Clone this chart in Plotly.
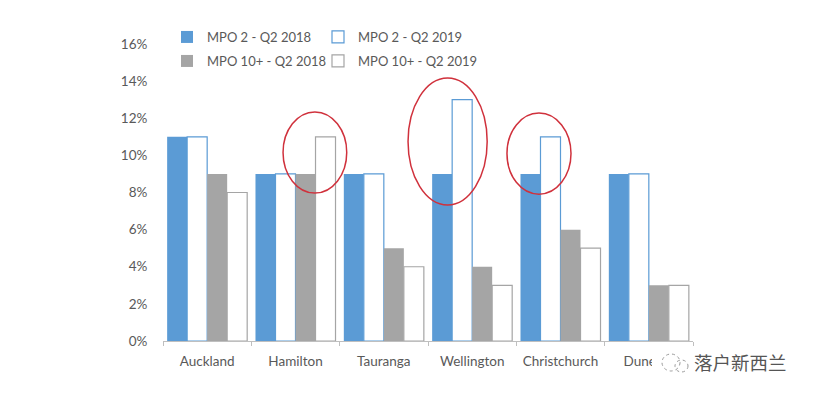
import plotly.graph_objects as go

categories = ["Auckland", "Hamilton", "Tauranga", "Wellington", "Christchurch", "Dunedin"]
mpo2_2018 = [0.11, 0.09, 0.09, 0.09, 0.09, 0.09]
mpo2_2019 = [0.11, 0.09, 0.09, 0.13, 0.11, 0.09]
mpo10_2018 = [0.09, 0.09, 0.05, 0.04, 0.06, 0.03]
mpo10_2019 = [0.08, 0.11, 0.04, 0.03, 0.05, 0.03]
y_ticks = [0, 0.02, 0.04, 0.06, 0.08, 0.10, 0.12, 0.14, 0.16]

BLUE = "#5B9BD5"
GRAY = "#A5A5A5"
FONT = "Lato, Open Sans, sans-serif"
TXT = "#595959"

# plot area in pixels (for placing decorations)
L, R, T, B = 163, 693, 44, 341


def px(xp):
    return (xp - L) / (R - L)


def py(yp):
    return (B - yp) / (B - T)


fig = go.Figure()
fig.add_trace(go.Bar(x=categories, y=mpo2_2018, name="MPO 2 - Q2 2018",
                     marker=dict(color=BLUE, line=dict(color=BLUE, width=0)), legend="legend"))
fig.add_trace(go.Bar(x=categories, y=mpo2_2019, name="MPO 2 - Q2 2019",
                     marker=dict(color="white", line=dict(color=BLUE, width=1.2)), legend="legend2"))
fig.add_trace(go.Bar(x=categories, y=mpo10_2018, name="MPO 10+ - Q2 2018",
                     marker=dict(color=GRAY, line=dict(color=GRAY, width=0)), legend="legend3"))
fig.add_trace(go.Bar(x=categories, y=mpo10_2019, name="MPO 10+ - Q2 2019",
                     marker=dict(color="white", line=dict(color=GRAY, width=1.2)), legend="legend4"))

# red highlight ellipses
ellipses = [(0.859, 1.58, 0.0797, 0.1234), (2.274, 3.17, 0.0733, 0.1417), (3.394, 4.119, 0.0791, 0.1228)]
for x0, x1, y0, y1 in ellipses:
    fig.add_shape(type="circle", xref="x", yref="y", x0=x0, x1=x1, y0=y0, y1=y1,
                  line=dict(color="#D0313C", width=1.5))

# watermark: white patch, icon, text
fig.add_shape(type="rect", xref="paper", yref="paper", x0=px(652), x1=px(812), y0=py(382), y1=py(349),
              fillcolor="white", line=dict(width=0), layer="above")
fig.add_shape(type="circle", xref="paper", yref="paper", x0=px(662), x1=px(680), y0=py(371), y1=py(354),
              line=dict(color="#9A9A9A", width=1, dash="dot"), layer="above")
fig.add_shape(type="circle", xref="paper", yref="paper", x0=px(675), x1=px(688), y0=py(372), y1=py(360),
              line=dict(color="#9A9A9A", width=1, dash="dot"), layer="above")
fig.add_annotation(xref="paper", yref="paper", x=px(740), y=py(362), xanchor="center", yanchor="middle",
                   text="落户新西兰", showarrow=False,
                   font=dict(family="Noto Sans CJK SC", size=18.5, color="#555555"))

leg_common = dict(orientation="h", font=dict(family=FONT, size=13, color=TXT),
                  bgcolor="rgba(0,0,0,0)", xanchor="left", yanchor="middle", itemclick=False)
fig.update_layout(
    width=815, height=399,
    margin=dict(l=L, r=815 - R, t=T, b=399 - B),
    paper_bgcolor="white", plot_bgcolor="white",
    barmode="group", bargap=0.094, bargroupgap=0,
    font=dict(family=FONT, size=13, color=TXT),
    showlegend=True,
    legend=dict(x=px(167), y=py(37), **leg_common),
    legend2=dict(x=px(318), y=py(37), **leg_common),
    legend3=dict(x=px(167), y=py(61), **leg_common),
    legend4=dict(x=px(318), y=py(61), **leg_common),
    xaxis=dict(showline=True, linecolor="#BFBFBF", linewidth=1, ticks="outside",
               tickson="boundaries", tickcolor="#BFBFBF", ticklen=4, showgrid=False,
               ticklabelstandoff=8,
               tickfont=dict(family=FONT, size=13.5, color=TXT)),
    yaxis=dict(range=[0, 0.16], tickvals=y_ticks, tickformat=".0%", showgrid=False,
               showline=False, zeroline=False, ticks="outside", ticklen=12, tickcolor="rgba(0,0,0,0)",
               tickfont=dict(family=FONT, size=13.5, color=TXT)),
)

fig.write_html("out.html", config={"displayModeBar": False},
               post_script="document.body.style.margin='0';document.body.style.overflow='hidden';")
